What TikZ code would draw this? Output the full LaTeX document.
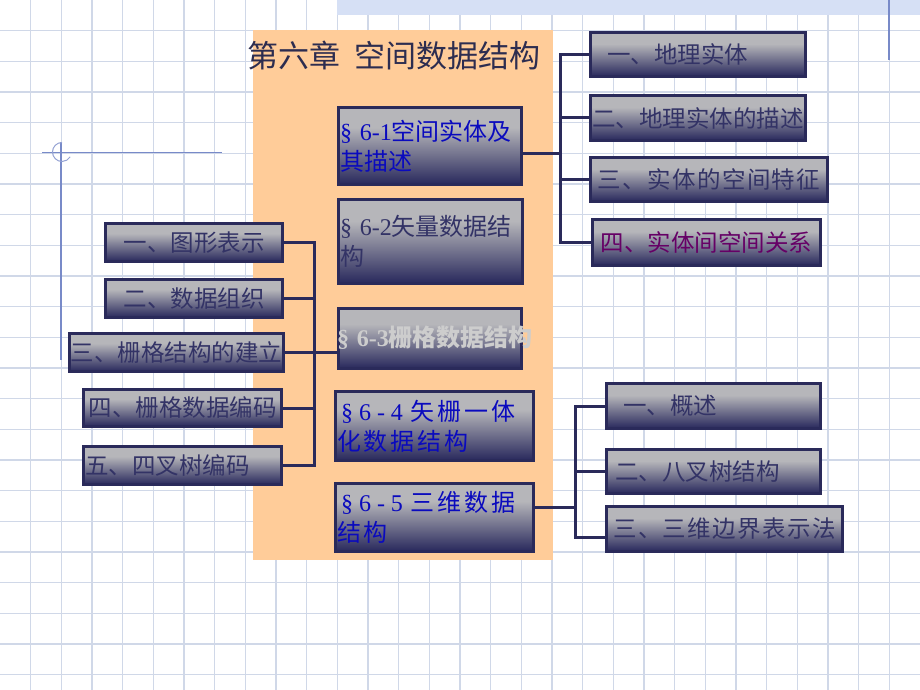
\documentclass[tikz,border=0pt]{standalone}
\usepackage{fontspec}
\setmainfont{Noto Sans CJK SC}
\newfontfamily\latf{Liberation Serif}
\newfontfamily\latwide[LetterSpace=25]{Liberation Serif}
\newfontfamily\cjkwide[LetterSpace=12]{Noto Sans CJK SC}
\newfontfamily\cjkmid[LetterSpace=6]{Noto Sans CJK SC}
\usetikzlibrary{positioning}
\definecolor{gridline}{RGB}{208,216,232}
\definecolor{bandblue}{RGB}{214,224,245}
\definecolor{decoblue}{RGB}{120,138,200}
\definecolor{peach}{RGB}{255,204,153}
\definecolor{boxtop}{RGB}{182,182,186}
\definecolor{boxbot}{RGB}{40,40,92}
\definecolor{boxedge}{RGB}{42,42,90}
\definecolor{titlecol}{RGB}{45,45,80}
\definecolor{textnavy}{RGB}{51,51,102}
\definecolor{textblue}{RGB}{10,10,190}
\definecolor{textpurple}{RGB}{102,0,102}
\definecolor{textgray}{RGB}{205,205,205}
\pgfdeclareverticalshading{boxshade}{100bp}{color(0bp)=(boxbot); color(25bp)=(boxbot); color(62bp)=(boxtop); color(100bp)=(boxtop)}
\tikzstyle{block} = [rectangle, draw=boxedge, line width=3pt, shade, shading=boxshade,
text=textnavy, inner sep=1.5pt, align=center, font=\fontsize{23.5}{28}\selectfont]
\tikzstyle{sect} = [block, align=left, text=textblue, font=\fontsize{24}{30}\selectfont]
\tikzstyle{line} = [draw=boxedge, line width=3pt]

\begin{document}
\begin{tikzpicture}[x=1pt, y=-1pt]
    % paper
    \useasboundingbox (0,0) rectangle (920,690);
    \fill [white] (0,0) rectangle (920,690);
    \foreach \k in {1,...,29} \draw [gridline, line width=1.3pt] (\k*30.667,0) -- (\k*30.667,690);
    \foreach \k in {1,...,22} \draw [gridline, line width=1.3pt] (0,\k*30.667) -- (920,\k*30.667);
    \fill [bandblue] (337.3,0) rectangle (920,15);
    \draw [decoblue, line width=1.5pt] (889,0) -- (889,60);
    \draw [decoblue, line width=1.3pt] (42,152.7) -- (222,152.7);
    \draw [decoblue, line width=1.3pt] (61,142) -- (61,360);
    \draw [decoblue!80, line width=1pt] (62,142.5) arc [start angle=270, end angle=30, radius=9.5];
    \fill [peach] (253,30) rectangle (553,560);

    % nodes
   \node [anchor=west, inner sep=0pt, text=titlecol, font=\fontsize{31}{34}\selectfont] (title) at (247,56) {第六章\hspace{0.45em}空间数据结构};
   \node [sect, minimum height=77pt, text width=180pt] (s1) at (430,146) {{\latf § 6-1}空间实体及\\其描述};
   \node [sect, minimum height=84pt, text width=181pt, text=textnavy] (s2) at (430.5,241.5) {{\latf § 6-2}矢量数据结\\构};
   \node [sect, minimum height=60pt, text width=180pt, text=textgray] (s3) at (430,338.5) {\raisebox{5pt}{\mbox{\hspace*{-3pt}{\latf\bfseries § 6-3}{\bfseries 栅格数据结构}}}};
   \node [sect, minimum height=69pt, text width=195pt] (s4) at (434.5,426) {\hspace*{4pt}{\latwide §6-4} {\cjkwide 矢栅一体}\\{\cjkwide 化数据结构}};
   \node [sect, minimum height=68pt, text width=195pt] (s5) at (434.5,517.5) {\hspace*{4pt}{\latwide §6-5} {\cjkwide 三维数据}\\{\cjkwide 结构}};

   \node [block, minimum height=44pt, text width=212pt, align=left] (r1) at (698,54.5) {\hspace*{15pt}一、地理实体};
   \node [block, minimum width=215pt, minimum height=45pt] (r2) at (698,118) {二、地理实体的描述};
   \node [block, minimum width=237pt, minimum height=44pt] (r3) at (709,179.5) {\cjkmid 三、实体的空间特征};
   \node [block, minimum width=228pt, minimum height=46pt, text=textpurple] (r4) at (706.5,242.5) {四、实体间空间关系};

   \node [block, minimum width=177pt, minimum height=38pt] (l1) at (194,242.5) {一、图形表示};
   \node [block, minimum width=177pt, minimum height=38pt] (l2) at (194,298.5) {二、数据组织};
   \node [block, minimum width=212pt, minimum height=38pt] (l3) at (176.5,352.5) {三、栅格结构的建立};
   \node [block, minimum width=198pt, minimum height=37pt] (l4) at (182.5,408) {四、栅格数据编码};
   \node [block, minimum height=38pt, text width=195pt, align=left] (l5) at (182.5,465.5) {五、四叉树编码};

   \node [block, minimum height=45pt, text width=211pt, align=left] (t1) at (713.5,406) {\hspace*{15pt}一、概述};
   \node [block, minimum height=44pt, text width=211pt, align=left] (t2) at (713.5,471.5) {\hspace*{7pt}二、八叉树结构};
   \node [block, minimum width=236pt, minimum height=45pt] (t3) at (724.5,529) {\cjkmid 三、三维边界表示法};

   \coordinate (jr) at (560,153);
   \coordinate (jl) at (314,352.5);
   \coordinate (jt) at (575,507);

    % edges
          \path [line] ([yshift=-7pt]s1.east) -- (jr);
          \draw [line] (r1.west) -| (jr);
          \draw [line] (r4.west) -| (jr);
          \path [line] (r2.west) -- (r2.west -| jr);
          \path [line] (r3.west) -- (r3.west -| jr);

          \path [line] (l3.east) -- (l3.east -| s3.west);
          \draw [line] (l1.east) -| (jl);
          \draw [line] (l5.east) -| (jl);
          \path [line] (l2.east) -- (l2.east -| jl);
          \path [line] (l4.east) -- (l4.east -| jl);

          \path [line] ([yshift=10.5pt]s5.east) -- (jt);
          \draw [line] (t1.west) -| (jt);
          \draw [line] ([yshift=-8pt]t3.west) -| (jt);
          \path [line] (t2.west) -- (t2.west -| jt);

  \end{tikzpicture}
\end{document}
